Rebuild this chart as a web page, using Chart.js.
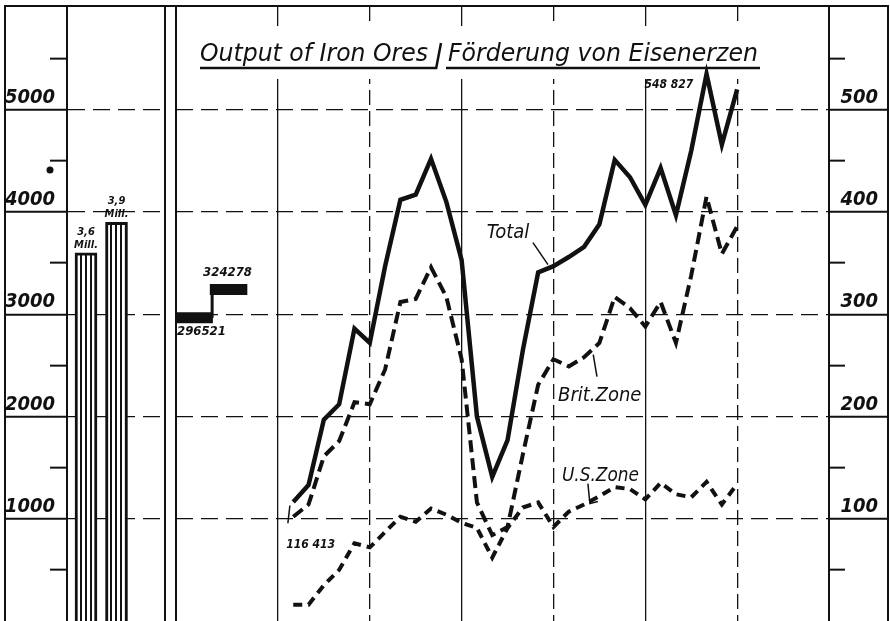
<!DOCTYPE html>
<html>
<head>
<meta charset="utf-8">
<script src="https://cdn.jsdelivr.net/npm/chart.js@4.4.1/dist/chart.umd.min.js"></script>
<style>
  html, body { margin: 0; padding: 0; background: #fff; }
  #wrap { position: relative; width: 890px; height: 621px; overflow: hidden; }
  #left { position: absolute; left: 0; top: 0; }
  #main { position: absolute; left: 170px; top: 0; }
</style>
</head>
<body>
<div id="wrap">
  <canvas id="left" width="170" height="621"></canvas>
  <canvas id="main" width="720" height="621"></canvas>
</div>
<script>
// monthly output, 1000 t (month index, 0 = first solid year line)
const months   = [1, 2, 3, 4, 5, 6, 7, 8, 9, 10, 11, 12, 13, 14, 15, 16, 17, 18, 19, 20, 21, 22, 23, 24, 25, 26, 27, 28, 29, 30];
const total    = [116.4, 133, 197, 212, 286, 272, 347, 412, 417, 452, 410, 353, 200, 141, 177, 265, 341, 347, 356, 366, 388, 451, 434, 407, 443, 397, 460, 535, 466, 520];
const britZone = [102, 114, 161, 176, 214, 212, 246, 312, 315, 346, 317, 256, 116, 84, 92, 163, 231, 256, 249, 258, 272, 317, 306, 288, 312, 272, 338, 415, 359, 386];
const usZone   = [16, 16, 35, 50, 76, 72, 87, 102, 97, 110, 104, 96, 91, 62, 91, 111, 116, 92, 107, 114, 122, 131, 129, 119, 135, 124, 121, 136, 114, 134];

// prewar monthly averages (step at the left)
const prewarSpan    = [-6.66, -4.3, -2.0];
const prewarMonthly = [296.521, 324.278];
const prewarText    = ['296521', '324278'];

// prewar annual output, 1000 t (left panel)
const annualPos   = [1, 2];
const annualTotal = [3600, 3900];
const annualText  = [['3,6', 'Mill.'], ['3,9', 'Mill.']];

const rightTicks = [100, 200, 300, 400, 500];
const rightMinor = [50, 150, 250, 350, 450, 550];
const leftTicks  = [1000, 2000, 3000, 4000, 5000];
const leftMinor  = [500, 1500, 2500, 3500, 4500, 5500];
const yearLines  = [0, 12, 24];
const halfLines  = [6, 18, 30];

const INK = '#111';
const FONT = '"DejaVu Sans Condensed", "Liberation Sans Narrow", sans-serif';
const tickFont = { family: FONT, size: 20, weight: 'bold', style: 'italic' };
const Y_MAX = 601.5;
const X_MIN = -6.66, X_MAX = 36;

function fixedTicks(values) {
  return function (scale) { scale.ticks = values.map(v => ({ value: v })); };
}

function xGrid(values, dash) {
  return {
    type: 'linear', axis: 'x', position: 'bottom', min: X_MIN, max: X_MAX,
    afterBuildTicks: fixedTicks(values),
    afterFit: s => { s.height = 0; s.paddingLeft = 0; s.paddingRight = 0; },
    ticks: { display: false },
    grid: { color: INK, lineWidth: 1.3, drawTicks: false },
    border: { display: false, dash: dash }
  };
}

function yAxis(opts) {
  return {
    type: 'linear', axis: 'y', position: opts.position, min: 0, max: opts.max,
    weight: opts.weight,
    afterBuildTicks: fixedTicks(opts.values),
    afterFit: s => { s.width = opts.width; s.paddingTop = 0; s.paddingBottom = 0; },
    ticks: {
      display: opts.labels, color: INK, font: tickFont, padding: 0,
      crossAlign: 'far', labelOffset: -12, callback: v => String(v)
    },
    grid: {
      color: INK, lineWidth: 1.3, drawOnChartArea: opts.onArea,
      tickLength: opts.tickLength, tickColor: INK, tickWidth: 2
    },
    border: { display: opts.border, color: INK, width: 2, dash: [17, 8] }
  };
}

// ---------- left panel: annual output ----------
function stripes() {
  const c = document.createElement('canvas');
  c.width = 5; c.height = 8;
  const g = c.getContext('2d');
  g.fillStyle = '#fff'; g.fillRect(0, 0, 5, 8);
  g.fillStyle = INK; g.fillRect(0, 0, 2, 8);
  return g.createPattern(c, 'repeat');
}

const leftDecor = {
  id: 'leftDecor',
  afterDraw(chart) {
    const { ctx, chartArea: a } = chart;
    ctx.save();
    ctx.strokeStyle = INK; ctx.lineWidth = 2;
    ctx.beginPath();
    ctx.moveTo(5, chart.height); ctx.lineTo(5, a.top);
    ctx.lineTo(chart.width, a.top);
    ctx.moveTo(a.right, a.top); ctx.lineTo(a.right, chart.height);
    ctx.stroke();
    ctx.fillStyle = INK;
    ctx.beginPath(); ctx.arc(50, 170, 3.5, 0, Math.PI * 2); ctx.fill();
    ctx.font = 'italic bold 11px ' + FONT;
    ctx.textAlign = 'center';
    chart.getDatasetMeta(0).data.forEach((bar, i) => {
      ctx.fillText(annualText[i][0], bar.x, bar.y - 18);
      ctx.fillText(annualText[i][1], bar.x, bar.y - 5);
    });
    ctx.restore();
  }
};

new Chart(document.getElementById('left'), {
  type: 'bar',
  data: {
    datasets: [{
      data: annualPos.map((p, i) => ({ x: p, y: annualTotal[i] })),
      backgroundColor: stripes(),
      borderColor: INK, borderWidth: 3, barThickness: 22
    }]
  },
  options: {
    responsive: false, animation: false, events: [],
    layout: { padding: { left: 5, top: 6, right: 5, bottom: 0 } },
    plugins: { legend: { display: false }, tooltip: { enabled: false } },
    scales: {
      x: { type: 'linear', display: false, offset: false, min: 0.377, max: 3.59 },
      y: yAxis({ position: 'left', max: Y_MAX * 10, weight: 1, values: leftTicks, width: 62,
                 labels: true, onArea: true, tickLength: 62, border: true }),
      y2: yAxis({ position: 'left', max: Y_MAX * 10, weight: 0, values: leftMinor, width: 0,
                  labels: false, onArea: false, tickLength: 17, border: false })
    }
  },
  plugins: [leftDecor]
});

// ---------- main panel: monthly output ----------
const mainDecor = {
  id: 'mainDecor',
  beforeDatasetsDraw(chart) {
    const { ctx, chartArea: a } = chart;
    ctx.save();
    ctx.strokeStyle = INK; ctx.lineWidth = 2;
    ctx.beginPath();
    ctx.moveTo(a.left, chart.height); ctx.lineTo(a.left, a.top);
    ctx.moveTo(0, a.top); ctx.lineTo(chart.width - 2, a.top);
    ctx.lineTo(chart.width - 2, chart.height);
    ctx.stroke();
    // title
    ctx.fillStyle = '#fff';
    ctx.fillRect(25, 26, 570, 53);
    ctx.fillStyle = INK;
    ctx.font = 'italic 25px "DejaVu Sans", sans-serif';
    ctx.textBaseline = 'alphabetic';
    ctx.fillText('Output of Iron Ores', 30, 61, 228);
    ctx.fillText('Förderung von Eisenerzen', 278, 61, 310);
    ctx.lineWidth = 2.5;
    ctx.beginPath();
    ctx.moveTo(271, 43); ctx.lineTo(266, 69);
    ctx.moveTo(30, 68); ctx.lineTo(266, 68);
    ctx.moveTo(276, 68); ctx.lineTo(590, 68);
    ctx.stroke();
    ctx.restore();
  },
  afterDatasetsDraw(chart) {
    const { ctx } = chart;
    const xs = chart.scales.x, ys = chart.scales.y;
    const P = (k, v) => [xs.getPixelForValue(k), ys.getPixelForValue(v)];
    ctx.save();
    ctx.fillStyle = INK; ctx.strokeStyle = INK; ctx.lineWidth = 1.5;
    const line = pts => {
      ctx.beginPath();
      pts.forEach((p, i) => { const q = P(p[0], p[1]); i ? ctx.lineTo(q[0], q[1]) : ctx.moveTo(q[0], q[1]); });
      ctx.stroke();
    };
    ctx.font = 'italic 20px ' + FONT;
    ctx.textAlign = 'center'; ctx.textBaseline = 'middle';
    let p = P(15.03, 380); ctx.fillText('Total', p[0], p[1], 48);
    line([[16.66, 370], [17.64, 348.5]]);
    ctx.textAlign = 'left'; ctx.textBaseline = 'alphabetic';
    p = P(18.3, 215.5); ctx.fillText('Brit.Zone', p[0], p[1]);
    line([[20.6, 260.5], [20.84, 239]]);
    p = P(18.55, 137.3); ctx.fillText('U.S.Zone', p[0], p[1], 77);
    line([[20.25, 134.4], [20.38, 114.9], [20.9, 116.8]]);

    ctx.font = 'italic bold 12px ' + FONT;
    p = P(months[0], total[0]);
    ctx.fillText('116 413', p[0] - 7, p[1] + 46);
    line([[0.78, 113], [0.65, 95.6]]);
    p = P(months[27], total[27]);
    ctx.fillText('548 827', p[0] - 62, p[1] + 14);
    ctx.font = 'italic bold 13px ' + FONT;
    p = P(prewarSpan[0], prewarMonthly[0]);
    ctx.fillText(prewarText[0], p[0] + 1, p[1] + 17);
    p = P(prewarSpan[1], prewarMonthly[1]);
    ctx.fillText(prewarText[1], p[0] - 9, p[1] - 13);
    ctx.restore();
  }
};

function series(values, width, dash) {
  return {
    data: months.map((m, i) => ({ x: m, y: values[i] })),
    borderColor: INK, borderWidth: width, borderDash: dash,
    borderJoinStyle: 'miter', pointRadius: 0, tension: 0, fill: false
  };
}

new Chart(document.getElementById('main'), {
  type: 'line',
  data: {
    datasets: [
      series(total, 4.5, []),
      series(britZone, 4, [12, 6]),
      series(usZone, 4, [9, 6]),
      {
        // thin riser between the two prewar levels
        data: [
          { x: prewarSpan[1], y: prewarMonthly[0] },
          { x: prewarSpan[1], y: prewarMonthly[1] }
        ],
        borderColor: INK, borderWidth: 3, pointRadius: 0
      },
      {
        // the two prewar monthly averages as thick bars
        data: [
          { x: prewarSpan[0], y: prewarMonthly[0] },
          { x: prewarSpan[1] + 0.05, y: prewarMonthly[0] },
          { x: prewarSpan[1], y: null },
          { x: prewarSpan[1] - 0.15, y: prewarMonthly[1] },
          { x: prewarSpan[2], y: prewarMonthly[1] }
        ],
        spanGaps: false, borderColor: INK, borderWidth: 11,
        borderCapStyle: 'butt', pointRadius: 0
      }
    ]
  },
  options: {
    responsive: false, animation: false, events: [],
    layout: { padding: { left: 6, top: 6, right: 12, bottom: 0 } },
    plugins: { legend: { display: false }, tooltip: { enabled: false } },
    scales: {
      x: xGrid(yearLines, []),
      x2: xGrid(halfLines, [15, 6]),
      y: yAxis({ position: 'right', max: Y_MAX, weight: 1, values: rightTicks, width: 49,
                 labels: true, onArea: true, tickLength: 59, border: true }),
      y2: yAxis({ position: 'right', max: Y_MAX, weight: 0, values: rightMinor, width: 0,
                  labels: false, onArea: false, tickLength: 16, border: false })
    }
  },
  plugins: [mainDecor]
});
</script>
</body>
</html>
